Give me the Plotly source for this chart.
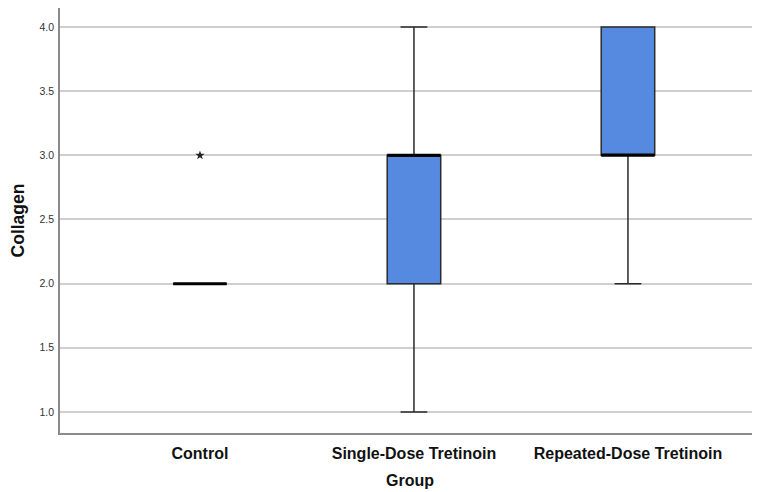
import plotly.graph_objects as go

categories = ["Control", "Single-Dose Tretinoin", "Repeated-Dose Tretinoin"]
lower = [2.0, 1.0, 2.0]
q1 = [2.0, 2.0, 3.0]
median = [2.0, 3.0, 3.0]
q3 = [2.0, 3.0, 4.0]
upper = [2.0, 4.0, 4.0]
outlier_group = [0]
outlier_value = [3.0]
yticks = [1.0, 1.5, 2.0, 2.5, 3.0, 3.5, 4.0]

pos = list(range(len(categories)))
box_w = 0.25
font = "Arial, Liberation Sans, Helvetica, sans-serif"

fig = go.Figure()
fig.add_trace(go.Box(
    x=pos, q1=q1, median=median, q3=q3, lowerfence=lower, upperfence=upper,
    width=box_w, whiskerwidth=0.5, fillcolor="#568ae0",
    line=dict(color="#2b2b2b", width=1.5), boxpoints=False, hoverinfo="skip",
))
for i, m in zip(pos, median):
    fig.add_trace(go.Scatter(
        x=[i - box_w / 2, i + box_w / 2], y=[m, m], mode="lines",
        line=dict(color="black", width=3), hoverinfo="skip",
    ))
fig.add_trace(go.Scatter(
    x=outlier_group, y=outlier_value, mode="markers",
    marker=dict(symbol="star", size=7, color="#222"), hoverinfo="skip",
))

fig.update_layout(
    width=752, height=484, showlegend=False,
    margin=dict(l=52, r=0, t=0, b=59),
    paper_bgcolor="white", plot_bgcolor="white",
    font=dict(family=font, color="#222"),
    xaxis=dict(
        range=[-0.654, 2.617], tickvals=pos, ticktext=[f"<b>{c}</b>" for c in categories],
        tickfont=dict(size=16, color="#111"), showgrid=False, zeroline=False,
        showline=True, linecolor="#8a8a8a", linewidth=1.5, ticks="", automargin=False,
        ticklabelstandoff=5,
        title=dict(text="<b>Group</b>", font=dict(size=16, color="#111"), standoff=14),
    ),
    yaxis=dict(
        range=[0.836, 4.148], tickvals=yticks, ticktext=[f"{v:.1f}" for v in yticks],
        tickfont=dict(size=10.5, color="#333"), showgrid=True, gridcolor="#cfcfcf",
        gridwidth=1.5, zeroline=False, showline=True, linecolor="#8a8a8a",
        linewidth=1.5, ticks="", automargin=False, ticklabelstandoff=2,
        title=dict(text="<b>Collagen</b>", font=dict(size=17.5, color="#111"), standoff=11),
    ),
)
fig.write_html("out.html")
